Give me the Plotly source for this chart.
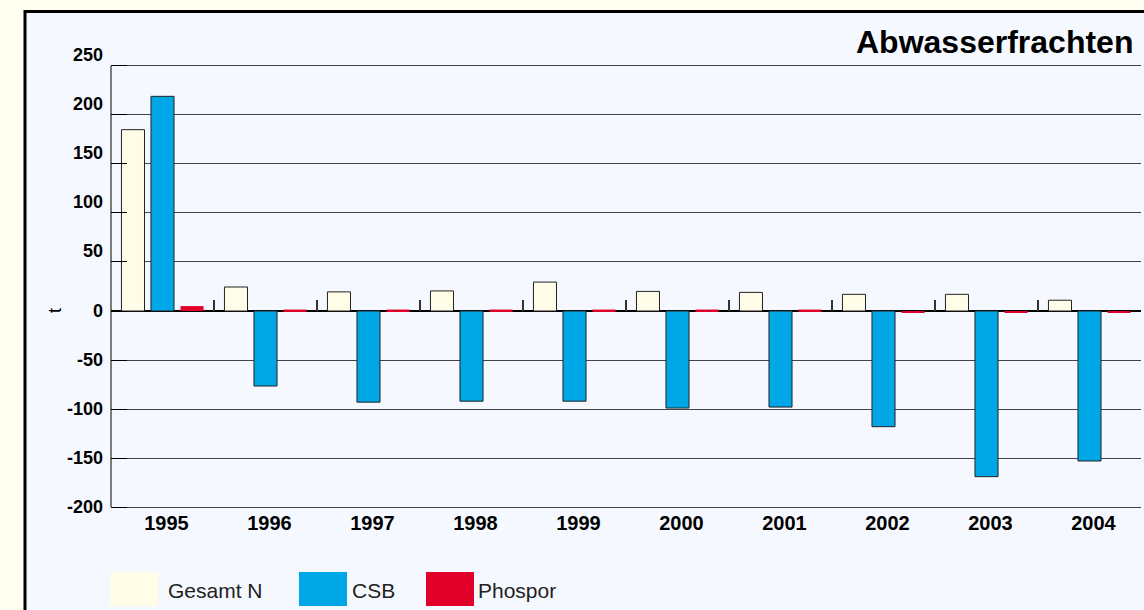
import plotly.graph_objects as go

years = ["1995", "1996", "1997", "1998", "1999", "2000", "2001", "2002", "2003", "2004"]
gesamt_n = [185, 24.5, 19.5, 20.5, 29.5, 20, 19, 17, 17, 11]
csb = [219, -76.5, -93, -92, -92, -99, -98, -118, -169, -153]
phospor = [5, 1.5, 1.5, 1.5, 1.5, 1.5, 1.5, -1.5, -1.5, -1.5]
series_names = ["Gesamt N", "CSB", "Phospor"]
series_colors = ["#fffce8", "#00a7e7", "#e1002a"]
y_ticks = [-200, -150, -100, -50, 0, 50, 100, 150, 200, 250]
title_text = "Abwasserfrachten"
y_title = "t"

W, H = 1144, 610
L, R, T, B = 111, 3, 63, 100
pw, ph = W - L - R, H - T - B
Y_RANGE = [-203, 253]

def px_x(px):
    return (px - L) / pw

def px_y(py):
    return (H - B - py) / ph

fig = go.Figure()
for name, vals, col, lw in zip(series_names, [gesamt_n, csb, phospor], series_colors, [1, 1, 0]):
    fig.add_trace(go.Bar(x=years, y=vals, name=name, marker=dict(color=col, line=dict(color="#222", width=lw)),
                         showlegend=False))

shapes = [
    dict(type="rect", xref="paper", yref="paper", x0=px_x(25), x1=px_x(1160), y0=px_y(640), y1=px_y(11.5),
         fillcolor="#f5f9ff", line=dict(color="black", width=3), layer="below"),
    # left axis line spanning the labelled range only
    dict(type="line", xref="paper", yref="y", x0=0, x1=0, y0=y_ticks[0], y1=y_ticks[-1],
         line=dict(color="black", width=1)),
]
annotations = [
    dict(text=title_text, xref="paper", yref="paper", x=px_x(1135), y=px_y(42), xanchor="right", yanchor="middle",
         showarrow=False, font=dict(family="Liberation Sans, Arial", size=32, color="black", weight="bold")),
    dict(text=y_title, xref="paper", yref="paper", x=px_x(55), y=px_y(311), xanchor="center", yanchor="middle",
         showarrow=False, textangle=-90, font=dict(family="Liberation Sans, Arial", size=18, color="black")),
]
legend_swatch_x = [110, 299, 426]
legend_text_x = [166, 350, 476]
for name, col, sx, tx in zip(series_names, series_colors, legend_swatch_x, legend_text_x):
    shapes.append(dict(type="rect", xref="paper", yref="paper", x0=px_x(sx), x1=px_x(sx + 48),
                       y0=px_y(606), y1=px_y(572), fillcolor=col, line=dict(width=0)))
    annotations.append(dict(text=name, xref="paper", yref="paper", x=px_x(tx), y=px_y(590), xanchor="left",
                            yanchor="middle", showarrow=False,
                            font=dict(family="Liberation Sans, Arial", size=21, color="#222")))

low_text = [str(v) if v <= 0 else "" for v in y_ticks]
pos_ticks = [v for v in y_ticks if v > 0]

fig.update_layout(
    width=W, height=H,
    margin=dict(l=L, r=R, t=T, b=B, pad=0),
    paper_bgcolor="#fffff2",
    plot_bgcolor="rgba(0,0,0,0)",
    barmode="group",
    bargap=0.14,
    bargroupgap=0.22,
    shapes=shapes,
    annotations=annotations,
    font=dict(family="Liberation Sans, Arial", color="black"),
    xaxis=dict(type="category", showgrid=False, showline=False, ticks="",
               tickfont=dict(size=20, weight="bold"), ticklabelstandoff=-1, ticklabelshift=4),
    xaxis2=dict(overlaying="x", anchor="free", position=(0 - Y_RANGE[0]) / (Y_RANGE[1] - Y_RANGE[0]),
                range=[-0.5, 9.5],
                tickmode="array", tickvals=[i - 0.5 for i in range(len(years) + 1)],
                ticks="inside", ticklen=11, tickcolor="#333", tickwidth=1.5,
                showticklabels=False, showgrid=False, showline=False, zeroline=False),
    yaxis=dict(range=Y_RANGE, tickmode="array", tickvals=y_ticks, ticktext=low_text,
               showgrid=True, gridcolor="#444",
               gridwidth=1, zeroline=True, zerolinecolor="black", zerolinewidth=1.5,
               showline=False, ticks="inside", ticklen=16,
               tickcolor="black", tickfont=dict(size=18, weight="bold"), ticklabelstandoff=7),
    yaxis2=dict(overlaying="y", side="left", anchor="x", range=Y_RANGE, tickmode="array",
                tickvals=pos_ticks, ticktext=[str(v) for v in pos_ticks], showgrid=False,
                zeroline=False, showline=False, ticks="", ticklabelshift=-11,
                tickfont=dict(size=18, weight="bold"), ticklabelstandoff=7),
)
fig.add_trace(go.Scatter(x=[0], y=[0], xaxis="x2", yaxis="y2", mode="markers", marker=dict(opacity=0),
                         showlegend=False, hoverinfo="skip"))
fig.write_html("out.html", config={"displayModeBar": False},
               post_script="document.body.style.margin='0';document.body.style.overflow='hidden';")
